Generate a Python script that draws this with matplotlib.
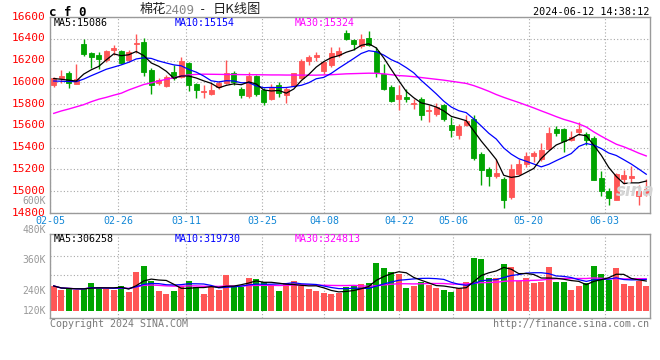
import matplotlib
matplotlib.use('Agg')
import numpy as np
import pandas as pd
import matplotlib.pyplot as plt
import matplotlib.transforms as mtransforms

# ---------------- data ----------------
opens = [15975, 16040, 16090, 15988, 16350, 16266, 16251, 16205, 16300, 16287,
         16205, 16352, 16368, 16113, 15991, 15969, 16098, 16052, 16180, 15982,
         15908, 15890, 15960, 15991, 16090, 15935, 15870, 16055, 15930, 15845,
         15974, 15884, 15965, 16043, 16199, 16235, 16103, 16163, 16253, 16454,
         16385, 16334, 16409, 16290, 16078, 15956, 15843, 15868, 15797, 15849,
         15733, 15709, 15788, 15611, 15514, 15605, 15664, 15342, 15204, 15143,
         15112, 14943, 15158, 15250, 15327, 15296, 15388, 15572, 15572, 15474,
         15542, 15525, 15490, 15118, 15004, 14922, 15112, 15124, 14958, 14983]
highs = [16052, 16115, 16105, 16165, 16395, 16281, 16275, 16296, 16345, 16296,
         16296, 16444, 16404, 16129, 16043, 16067, 16159, 16236, 16190, 15991,
         15975, 15991, 16012, 16205, 16105, 15960, 16098, 16065, 15945, 15983,
         16004, 15959, 16090, 16214, 16253, 16274, 16199, 16325, 16328, 16478,
         16394, 16445, 16470, 16320, 16170, 15971, 15971, 15935, 15849, 15865,
         15788, 15813, 15804, 15681, 15620, 15700, 15701, 15357, 15219, 15296,
         15127, 15250, 15296, 15364, 15373, 15443, 15588, 15603, 15578, 15557,
         15634, 15545, 15505, 15189, 15026, 15165, 15198, 15229, 15057, 15112]
lows = [15955, 15995, 15950, 15985, 16242, 16130, 16124, 16190, 16254, 16166,
        16190, 16266, 16055, 15890, 15975, 15960, 16021, 16037, 15920, 15860,
        15860, 15884, 15940, 15982, 15980, 15855, 15855, 15870, 15795, 15840,
        15869, 15809, 15960, 16034, 16163, 16199, 16073, 16145, 16235, 16385,
        16295, 16319, 16333, 16047, 15926, 15819, 15742, 15819, 15752, 15651,
        15636, 15691, 15642, 15499, 15477, 15597, 15287, 15057, 15045, 15118,
        14842, 14928, 15149, 15219, 15265, 15281, 15382, 15505, 15364, 15465,
        15517, 15420, 15100, 14958, 14872, 14915, 15066, 15081, 14872, 14958]
closes = [16038, 16058, 15990, 16035, 16258, 16235, 16214, 16287, 16312, 16175,
          16278, 16364, 16098, 15975, 16021, 16052, 16043, 16199, 15975, 15930,
          15920, 15930, 15991, 16089, 16000, 15880, 16060, 15895, 15815, 15953,
          15905, 15935, 16085, 16199, 16235, 16247, 16184, 16268, 16289, 16394,
          16355, 16394, 16339, 16099, 15935, 15825, 15880, 15843, 15810, 15697,
          15746, 15770, 15666, 15559, 15599, 15645, 15302, 15198, 15143, 15167,
          14922, 15204, 15250, 15321, 15348, 15382, 15536, 15536, 15465, 15496,
          15572, 15475, 15105, 15004, 14937, 15158, 15149, 15136, 15004, 15020]
volumes = [278000, 254000, 258000, 254000, 260000, 298000, 264000, 258000, 254000, 278000,
           244000, 364000, 400000, 310000, 250000, 232000, 250000, 278000, 308000, 274000,
           232000, 278000, 254000, 344000, 278000, 274000, 328000, 320000, 300000, 278000,
           248000, 298000, 308000, 278000, 260000, 250000, 238000, 230000, 234000, 274000,
           278000, 290000, 298000, 418000, 388000, 364000, 348000, 268000, 278000, 304000,
           284000, 268000, 254000, 244000, 268000, 304000, 448000, 440000, 324000, 324000,
           410000, 394000, 308000, 328000, 294000, 304000, 394000, 300000, 300000, 254000,
           280000, 294000, 400000, 350000, 314000, 384000, 290000, 278000, 308000, 278000]
# MA30 of price (needs history before the window)
ma30_price = [15715, 15737, 15755, 15775, 15795, 15822, 15845, 15862, 15882, 15900,
              15930, 15955, 15980, 15995, 16012, 16028, 16042, 16058, 16068, 16073,
              16075, 16074, 16073, 16072, 16072, 16071, 16070, 16070, 16069, 16068,
              16068, 16067, 16067, 16066, 16066, 16066, 16068, 16070, 16074, 16078,
              16080, 16082, 16084, 16083, 16078, 16070, 16062, 16058, 16052, 16044,
              16036, 16028, 16020, 16010, 16000, 15990, 15970, 15945, 15918, 15888,
              15862, 15838, 15815, 15790, 15765, 15738, 15712, 15685, 15660, 15640,
              15618, 15590, 15545, 15505, 15468, 15432, 15408, 15380, 15350, 15324]
# warm-up values of MA5 / MA10 (before the window fills)
ma5_head = [16035, 16028, 16020, 16012]
ma10_head = [16012, 16010, 16008, 16006, 16030, 16061, 16090, 16120, 16140]

date_labels = ['02-05', '02-26', '03-11', '03-25', '04-08', '04-22', '05-06', '05-20', '06-03']
price_ticks = [14800, 15000, 15200, 15400, 15600, 15800, 16000, 16200, 16400, 16600]
legend_price = ['MA5:15086', 'MA10:15154', 'MA30:15324']
legend_vol = ['MA5:306258', 'MA10:319730', 'MA30:324813']
vol_labels = ['600K', '480K', '360K', '240K', '120K']

# ---------------- layout / style ----------------
W, H = 660, 360
RED = '#ff5656'
GREEN = '#00a400'
GRID = '#a8a8a8'
BORDER = '#9a9a9a'
MONO = 'DejaVu Sans Mono'
CJK = ['Noto Sans CJK SC', 'DejaVu Sans']

date_pos = [-0.5, 8.61, 17.63, 27.81, 36.03, 46.03, 53.23, 63.33, 73.46]

n = len(closes)
x = np.arange(n)
o = np.array(opens, float); c = np.array(closes, float)
h = np.array(highs, float); l = np.array(lows, float)
v = np.array(volumes, float)
up = c >= o
cols = np.where(up, RED, GREEN)

cs = pd.Series(c)
ma5 = cs.rolling(5).mean().to_numpy()
ma5[:len(ma5_head)] = ma5_head
ma10 = cs.rolling(10).mean().to_numpy()
ma10[:len(ma10_head)] = ma10_head
vs = pd.Series(v)
vma5 = vs.rolling(5, min_periods=1).mean().to_numpy()
vma10 = vs.rolling(10, min_periods=1).mean().to_numpy()
vma30 = vs.rolling(30, min_periods=1).mean().to_numpy()

fig = plt.figure(figsize=(W / 100, H / 100), dpi=100)
fig.patch.set_facecolor('white')

def box(left, top, right, bottom):
    return [left / W, 1 - bottom / H, (right - left) / W, (bottom - top) / H]

def ftext(px, py, s, **kw):
    fig.text(px / W, 1 - py / H, s, **kw)

ax = fig.add_axes(box(50, 17, 650, 213))
axv = fig.add_axes(box(50, 234.3, 650, 318.3))

for a in (ax, axv):
    a.set_xlim(-0.5, n - 0.5)
    for sp in a.spines.values():
        sp.set_color(BORDER)
        sp.set_linewidth(1.0)
    a.set_xticks(date_pos)
    a.grid(axis='x', color=GRID, linestyle=(0, (1, 2)), linewidth=0.8)
    a.set_axisbelow(True)

# ---- price panel ----
ax.set_ylim(14800, 16600)
ax.set_yticks(price_ticks)
ax.set_yticklabels([str(t) for t in price_ticks], color='#ff0000',
                   fontsize=8, family=MONO)
ax.grid(axis='y', color=GRID, linestyle=(0, (1, 2)), linewidth=0.8)
ax.tick_params(axis='y', length=0, pad=3)
up_shift = mtransforms.ScaledTranslation(0, 1.5 / 100, fig.dpi_scale_trans)
for lab in ax.get_yticklabels():
    lab.set_transform(lab.get_transform() + up_shift)
ax.set_xticklabels(date_labels, color='#1287d6', fontsize=7.2, family=MONO)
ax.tick_params(axis='x', length=0, pad=2.5)

ax.vlines(x, l, h, colors=cols, linewidth=1.0, zorder=2)
body_lo = np.minimum(o, c)
body_h = np.maximum(np.abs(c - o), 4)
ax.bar(x, body_h, bottom=body_lo, width=0.72, color=cols, edgecolor=cols,
       linewidth=0.6, zorder=3)

ax.plot(x, ma30_price, color='#ff00ff', linewidth=1.0, zorder=4)
ax.plot(x, ma10, color='#0000ff', linewidth=0.9, zorder=4)
ax.plot(x, ma5, color='#000000', linewidth=0.9, zorder=5)

# sina watermark
ftext(635, 191, 'sina', color='#d4d4d4', fontsize=12, fontweight='bold',
      style='italic', ha='center', va='center', zorder=1, family='DejaVu Sans')

# ---- volume panel ----
axv.set_ylim(84000, 588000)
axv.set_yticks([])
axv.tick_params(axis='x', length=0, labelbottom=False)
for gy in (220000, 344000, 460000):
    axv.axhline(gy, color=GRID, linestyle=(0, (1, 2)), linewidth=0.8, zorder=0)
vbase = 130000
axv.bar(x, v - vbase, bottom=vbase, width=0.8, color=cols, linewidth=0, zorder=2)
axv.plot(x, vma30, color='#ff00ff', linewidth=1.0, zorder=3)
axv.plot(x, vma10, color='#0000ff', linewidth=0.9, zorder=3)
axv.plot(x, vma5, color='#000000', linewidth=0.9, zorder=4)

# ---- texts ----
ftext(49, 12, 'c f 0', fontsize=9, fontweight='bold', family=MONO, ha='left', va='center')
ftext(140, 10, '棉花', fontsize=9.5, family=CJK, ha='left', va='center', color='#222222')
ftext(164, 10, '2409', fontsize=9, family=MONO, ha='left', va='center', color='#888888')
ftext(199, 10, '-', fontsize=9, family=MONO, ha='left', va='center', color='#222222')
ftext(213, 10, '日K线图', fontsize=9.5, family=CJK, ha='left', va='center', color='#222222')
ftext(649, 12, '2024-06-12 14:38:12', fontsize=7.3, family=MONO, ha='right', va='center')

leg_cols = ['#000000', '#0000ff', '#ff00ff']
leg_x = [54, 175, 295]
for s, col, lx in zip(legend_price, leg_cols, leg_x):
    ftext(lx, 23.5, s, fontsize=7.2, family=MONO, color=col, ha='left', va='center')
for s, col, lx in zip(legend_vol, leg_cols, leg_x):
    ftext(lx, 239.5, s, fontsize=7.2, family=MONO, color=col, ha='left', va='center')

for s, py in zip(vol_labels, [200.5, 230, 260, 291, 311]):
    ftext(46, py, s, fontsize=7, family=MONO, color='#999999', ha='right', va='center')

ftext(50, 324, 'Copyright 2024 SINA.COM', fontsize=7.2, family=MONO,
      color='#7a7a7a', ha='left', va='center')
ftext(649, 324, 'http://finance.sina.com.cn', fontsize=7.2, family=MONO,
      color='#7a7a7a', ha='right', va='center')

fig.savefig('out.png', dpi=100, facecolor='white')
